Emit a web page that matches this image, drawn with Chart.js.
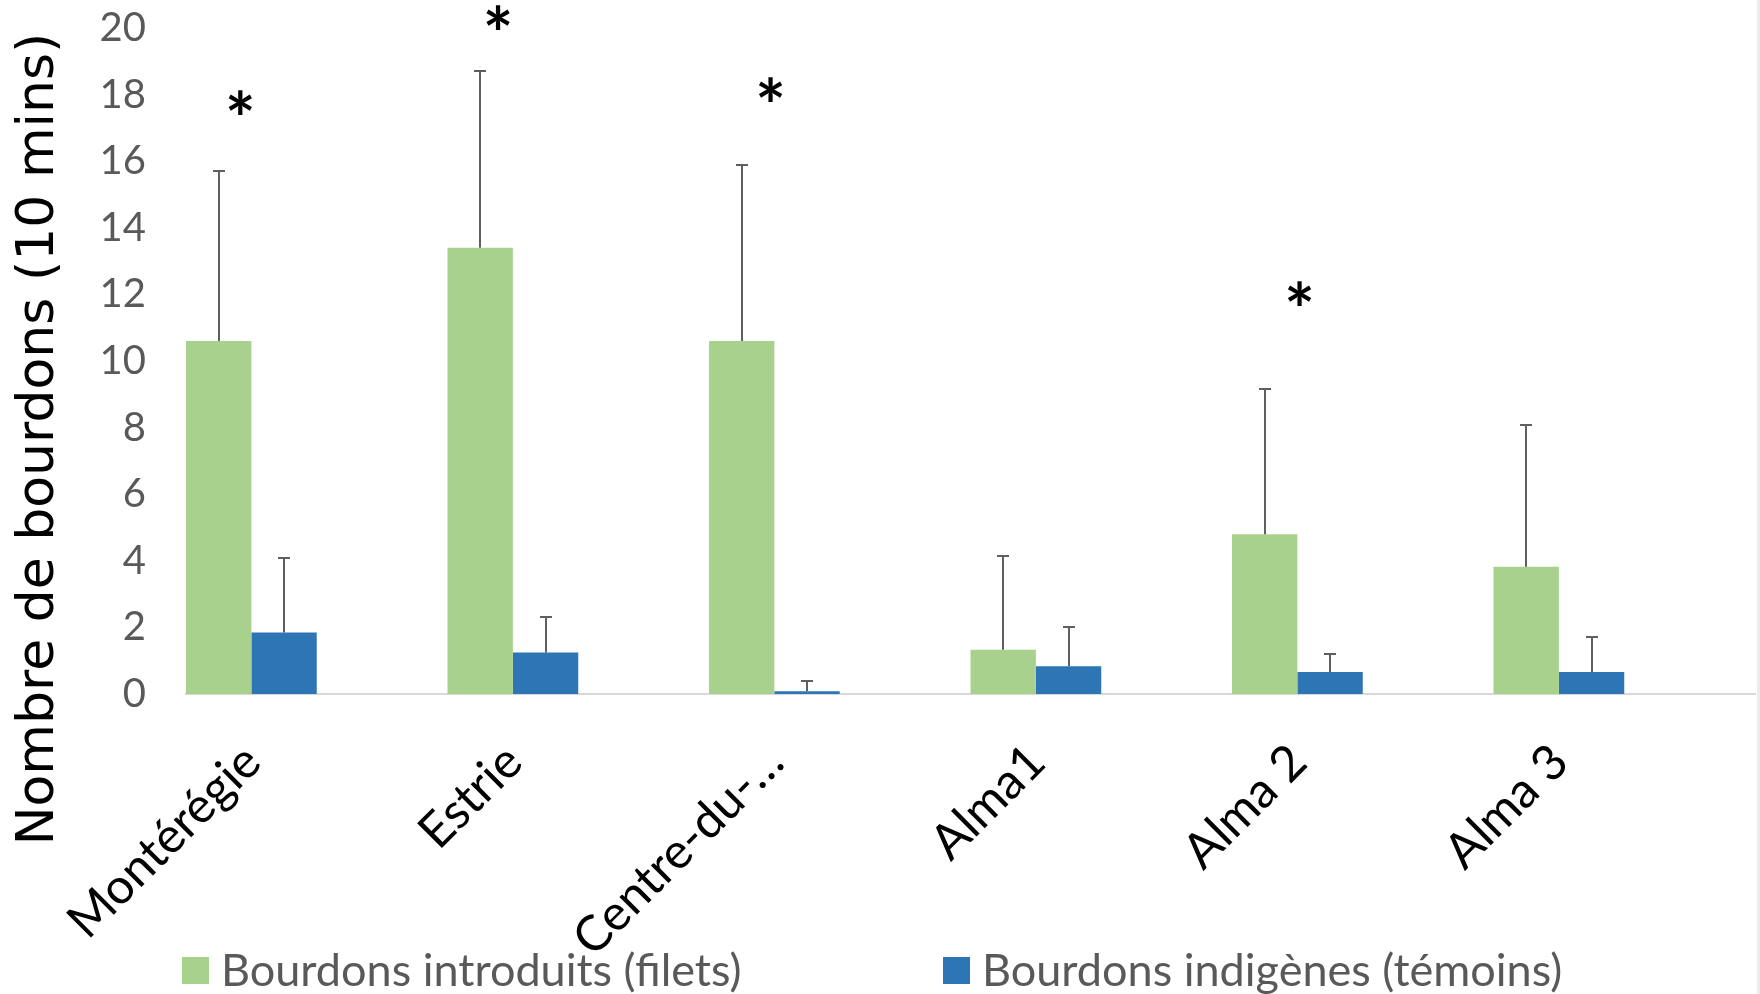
<!DOCTYPE html>
<html>
<head>
<meta charset="utf-8">
<script src="https://cdn.jsdelivr.net/npm/chart.js@4.4.1/dist/chart.umd.min.js"></script>
<style>
  html, body { margin: 0; padding: 0; background: #ffffff; }
  #wrap { position: relative; width: 1760px; height: 994px; overflow: hidden; }
  #wrap::after { content: ''; position: absolute; right: 0; top: 0; width: 3px; height: 994px; background: #ececec; }
</style>
</head>
<body>
<div id="wrap"><canvas id="c" width="1760" height="994"></canvas></div>
<script>
// Sites
const categories = ['Montérégie', 'Estrie', 'Centre-du-…', 'Alma1', 'Alma 2', 'Alma 3'];

// Mean number of bumblebees per 10 minutes, with upper error (SD)
const introduits    = [10.6, 13.4, 10.6, 1.33, 4.8, 3.82];
const introduitsErr = [5.1, 5.3, 5.28, 2.8, 4.37, 4.26];
const indigenes     = [1.85, 1.25, 0.08, 0.83, 0.66, 0.66];
const indigenesErr  = [2.23, 1.05, 0.3, 1.17, 0.53, 1.05];

const seriesLabels = ['Bourdons introduits (filets)', 'Bourdons indigènes (témoins)'];
const seriesColors = ['#A9D18E', '#2E75B6'];

// Y axis
const yMin = 0, yMax = 20, yStep = 2;
const yTitle = 'Nombre de bourdons (10 mins)';

// Significance markers: site index, height (axis units), small sideways nudge (category units)
const signifIndex = [0, 1, 2, 4];
const signifLevel = [17.75, 20.33, 18.14, 12.03];
const signifShift = [-0.042, -0.057, -0.015, 0.008];

const errorBars = {
  id: 'errorBars',
  afterDatasetsDraw(chart) {
    const { ctx } = chart;
    const y = chart.scales.y;
    ctx.save();
    ctx.strokeStyle = '#5f5f5f';
    ctx.lineWidth = 2;
    chart.data.datasets.forEach((ds, di) => {
      const meta = chart.getDatasetMeta(di);
      meta.data.forEach((bar, i) => {
        const top = Math.round(y.getPixelForValue(ds.data[i].y + ds.errors[i]));
        const x = Math.round(bar.x);
        ctx.beginPath();
        ctx.moveTo(x, bar.y);
        ctx.lineTo(x, top);
        ctx.moveTo(x - 6, top);
        ctx.lineTo(x + 6, top);
        ctx.stroke();
      });
    });
    ctx.restore();
  }
};

const signifMarks = {
  id: 'signifMarks',
  afterDraw(chart) {
    const { ctx } = chart;
    const xs = chart.scales.x, ys = chart.scales.y;
    ctx.save();
    ctx.fillStyle = '#000000';
    ctx.font = 'bold 72px Lato';
    ctx.textAlign = 'center';
    ctx.textBaseline = 'alphabetic';
    const m = ctx.measureText('*');
    const mid = (m.actualBoundingBoxAscent - m.actualBoundingBoxDescent) / 2;
    signifIndex.forEach((idx, k) => {
      const px = xs.getPixelForValue(idx + signifShift[k]);
      const py = ys.getPixelForValue(signifLevel[k]);
      ctx.fillText('*', px, py + mid);
    });
    ctx.restore();
  }
};

const axisTitle = {
  id: 'axisTitle',
  afterDraw(chart) {
    const { ctx } = chart;
    ctx.save();
    ctx.translate(53, 439);
    ctx.rotate(-Math.PI / 2);
    ctx.fillStyle = '#000000';
    ctx.font = '52px "DejaVu Sans"';
    ctx.textAlign = 'center';
    ctx.textBaseline = 'alphabetic';
    ctx.fillText(yTitle, 0, 0);
    ctx.restore();
  }
};

// Bottom legend, one entry per dataset
const legendStarts = [182, 943];
const bottomLegend = {
  id: 'bottomLegend',
  afterDraw(chart) {
    const { ctx } = chart;
    ctx.save();
    ctx.font = '45px Lato';
    ctx.textAlign = 'left';
    ctx.textBaseline = 'alphabetic';
    chart.data.datasets.forEach((ds, i) => {
      const x0 = legendStarts[i];
      ctx.fillStyle = ds.backgroundColor;
      ctx.fillRect(x0, 957, 27, 27);
      ctx.fillStyle = '#595959';
      ctx.fillText(ds.label, x0 + 39, 986);
    });
    ctx.restore();
  }
};

const toPoints = (vals) => vals.map((v, i) => ({ x: i, y: v }));

new Chart(document.getElementById('c'), {
  type: 'bar',
  data: {
    datasets: [
      { label: seriesLabels[0], data: toPoints(introduits), errors: introduitsErr, backgroundColor: seriesColors[0] },
      { label: seriesLabels[1], data: toPoints(indigenes), errors: indigenesErr, backgroundColor: seriesColors[1] }
    ]
  },
  options: {
    responsive: false,
    animation: false,
    events: [],
    datasets: { bar: { categoryPercentage: 0.5, barPercentage: 1.0 } },
    layout: { autoPadding: false, padding: { left: 0, right: 5, top: 28, bottom: 0 } },
    plugins: { legend: { display: false }, tooltip: { enabled: false } },
    scales: {
      x: {
        type: 'linear',
        min: -0.25,
        max: 5.75,
        bounds: 'data',
        offset: false,
        grid: { display: false, drawTicks: false },
        border: { display: true, color: '#d9d9d9', width: 2 },
        afterBuildTicks: (s) => { s.ticks = categories.map((_, i) => ({ value: i })); },
        afterFit: (s) => { s.height = 300; s.paddingLeft = 0; s.paddingRight = 0; },
        ticks: {
          autoSkip: false,
          minRotation: 45,
          maxRotation: 45,
          padding: 39,
          labelOffset: 1,
          color: '#000000',
          font: { family: 'Lato', size: 49 },
          callback: (v) => categories[Math.round(v)]
        }
      },
      y: {
        min: yMin,
        max: yMax,
        grid: { display: false, drawTicks: false },
        border: { display: false },
        afterFit: (s) => { s.width = 186; s.paddingTop = 0; s.paddingBottom = 0; },
        ticks: {
          stepSize: yStep,
          padding: 40,
          color: '#595959',
          font: { family: 'Lato', size: 40 }
        }
      }
    }
  },
  plugins: [errorBars, signifMarks, axisTitle, bottomLegend]
});
</script>
</body>
</html>
